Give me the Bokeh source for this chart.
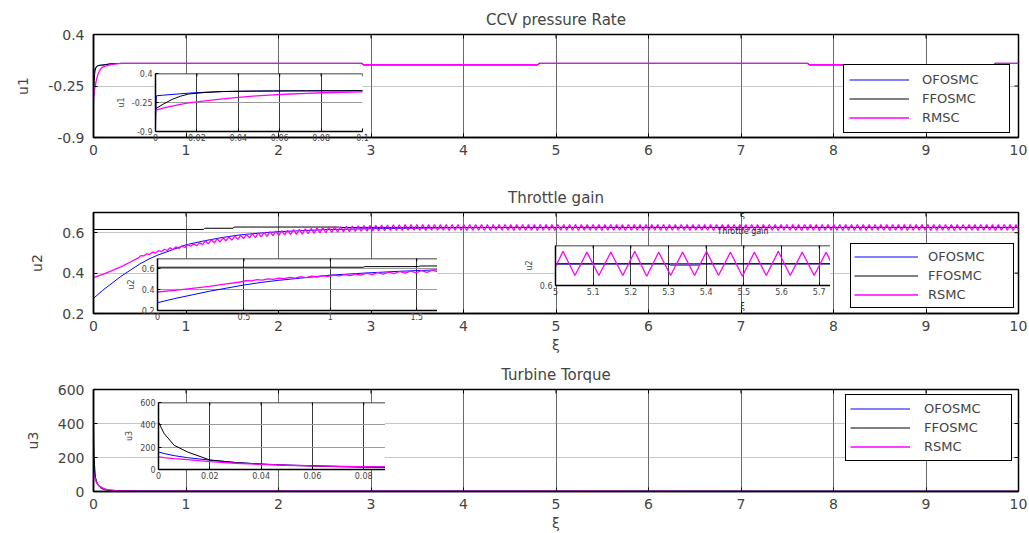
import math
from bokeh.plotting import figure
from bokeh.models import Range1d, FixedTicker, Legend, LegendItem, Label, Span
from bokeh.layouts import column
from bokeh.embed import file_html
from bokeh.resources import INLINE

# ---------------- data ----------------
series_names_1 = ["OFOSMC", "FFOSMC", "RMSC"]
series_names_2 = ["OFOSMC", "FFOSMC", "RSMC"]
series_names_3 = ["OFOSMC", "FFOSMC", "RSMC"]

titles = ["CCV pressure Rate", "Throttle gain", "Turbine Torque"]
inset_title_fragments = ["CCV pres", "Throttle ga", "Ti"]   # clipped titles visible in the insets
ylabels = ["u1", "u2", "u3"]
xlabel = "\u03be"

main_x_ticks = [0, 1, 2, 3, 4, 5, 6, 7, 8, 9, 10]
main_x_labels = ["0", "1", "2", "3", "4", "5", "6", "7", "8", "9", "10"]

u1_ticks = [-0.9, -0.25, 0.4]
u1_tick_labels = ["-0.9", "-0.25", "0.4"]
u2_ticks = [0.2, 0.4, 0.6]
u2_tick_labels = ["0.2", "0.4", "0.6"]
u3_ticks = [0, 200, 400, 600]
u3_tick_labels = ["0", "200", "400", "600"]

# u1 : CCV pressure rate
u1_t = [0, 0.0004, 0.004, 0.008, 0.012, 0.016, 0.024, 0.0325, 0.04, 0.049, 0.057,
        0.065, 0.073, 0.081, 0.09, 0.1, 0.13, 0.17, 0.22, 0.3, 2.9, 2.92, 4.8, 4.82,
        7.72, 7.74, 9.73, 9.75, 10]
u1_ofosmc = [-0.78, -0.10, -0.085, -0.07, -0.055, -0.04, -0.02, -0.005, 0.0, 0.005, 0.008,
             0.01, 0.011, 0.012, 0.013, 0.014, 0.02, 0.027, 0.032, 0.035, 0.035, 0.018, 0.018, 0.035,
             0.035, 0.018, 0.018, 0.035, 0.035]
u1_ffosmc = [-0.40, -0.38, -0.28, -0.18, -0.11, -0.06, -0.025, -0.004, 0.003, 0.007, 0.009,
             0.011, 0.012, 0.013, 0.014, 0.015, 0.02, 0.027, 0.032, 0.035, 0.035, 0.018, 0.018, 0.035,
             0.035, 0.018, 0.018, 0.035, 0.035]
u1_rmsc = [-0.44, -0.42, -0.37, -0.33, -0.29, -0.26, -0.215, -0.17, -0.135, -0.10, -0.08,
           -0.06, -0.045, -0.032, -0.02, -0.012, 0.0, 0.015, 0.027, 0.035, 0.035, 0.018, 0.018, 0.035,
           0.035, 0.018, 0.018, 0.035, 0.035]

# u2 : throttle gain
u2_ofosmc_t = [0, 0.1, 0.2, 0.3, 0.4, 0.5, 0.6, 0.7, 0.85, 1.0, 1.2, 1.4, 1.6, 1.8, 2.0,
               2.5, 3.0, 4.0, 5.3, 5.305, 5.38, 5.385, 10]
u2_ofosmc = [0.275, 0.315, 0.35, 0.385, 0.415, 0.445, 0.47, 0.49, 0.515, 0.54, 0.56, 0.577,
             0.59, 0.598, 0.605, 0.615, 0.62, 0.625, 0.626, 0.6245, 0.6245, 0.626, 0.626]
u2_ffosmc_t = [0, 1.19, 1.2, 1.51, 1.52, 2.65, 2.66, 10]
u2_ffosmc = [0.616, 0.616, 0.622, 0.622, 0.628, 0.628, 0.626, 0.626]
u2_rsmc_head_t = [0, 0.1, 0.2, 0.3, 0.4, 0.48]
u2_rsmc_head = [0.378, 0.394, 0.412, 0.432, 0.455, 0.474]
u2_rsmc_zig_t0 = 0.5114     # first chattering sample
u2_rsmc_zig_dt = 0.03175    # half period of the chattering
u2_rsmc_zig = [
    0.486, 0.485, 0.496, 0.492, 0.504, 0.500, 0.511, 0.506, 0.518, 0.512,
    0.525, 0.517, 0.530, 0.522, 0.535, 0.527, 0.541, 0.533, 0.545, 0.535,
    0.551, 0.541, 0.559, 0.545, 0.565, 0.550, 0.570, 0.554, 0.575, 0.559,
    0.579, 0.563, 0.583, 0.567, 0.587, 0.571, 0.591, 0.574, 0.595, 0.576,
    0.599, 0.579, 0.602, 0.582, 0.605, 0.585, 0.608, 0.587, 0.610, 0.589,
    0.612, 0.591, 0.615, 0.592, 0.617, 0.593, 0.619, 0.595, 0.621, 0.597,
    0.624, 0.599, 0.626, 0.600, 0.628, 0.601, 0.630, 0.602, 0.631, 0.604,
    0.632, 0.605, 0.633, 0.606, 0.634, 0.607, 0.635, 0.608, 0.636, 0.609,
    0.637, 0.610, 0.638, 0.610, 0.638, 0.611, 0.639, 0.611, 0.639, 0.611,
    0.640, 0.612,
    0.640, 0.612, 0.641, 0.612, 0.640, 0.611, 0.640, 0.612, 0.641, 0.612,
    0.640, 0.612, 0.640, 0.611, 0.641, 0.612, 0.640, 0.612, 0.640, 0.611,
    0.641, 0.612, 0.640, 0.612, 0.640, 0.612, 0.641, 0.611, 0.640, 0.612,
    0.640, 0.612, 0.641, 0.612, 0.640, 0.611, 0.640, 0.612, 0.641, 0.612,
    0.640, 0.612, 0.640, 0.611, 0.641, 0.612, 0.640, 0.612, 0.640, 0.611,
    0.641, 0.612, 0.640, 0.612, 0.640, 0.612, 0.641, 0.611, 0.640, 0.612,
    0.640, 0.612, 0.641, 0.612, 0.640, 0.611, 0.640, 0.612, 0.641, 0.612,
    0.640, 0.612, 0.640, 0.611, 0.641, 0.612, 0.640, 0.612, 0.640, 0.611,
    0.641, 0.612, 0.640, 0.612, 0.640, 0.612, 0.641, 0.611, 0.640, 0.612,
    0.640, 0.612, 0.641, 0.612, 0.640, 0.611, 0.640, 0.612, 0.641, 0.612,
    0.640, 0.612, 0.640, 0.611, 0.641, 0.612, 0.640, 0.612, 0.640, 0.611,
    0.641, 0.612, 0.640, 0.612, 0.640, 0.612, 0.641, 0.611, 0.640, 0.612,
    0.640, 0.612, 0.641, 0.612, 0.640, 0.611, 0.640, 0.612, 0.641, 0.612,
    0.640, 0.612, 0.640, 0.611, 0.641, 0.612, 0.640, 0.612, 0.640, 0.611,
    0.641, 0.612, 0.640, 0.612, 0.640, 0.612, 0.641, 0.611, 0.640, 0.612,
    0.640, 0.612, 0.641, 0.612, 0.640, 0.611, 0.640, 0.612, 0.641, 0.612,
    0.640, 0.612, 0.640, 0.611, 0.641, 0.612, 0.640, 0.612, 0.640, 0.611,
    0.641, 0.612, 0.640, 0.612, 0.640, 0.612, 0.641, 0.611, 0.640, 0.612,
    0.640, 0.612, 0.641, 0.612, 0.640, 0.611, 0.640, 0.612, 0.641, 0.612,
    0.640, 0.612, 0.640, 0.611, 0.641, 0.612, 0.640, 0.612, 0.640, 0.611,
    0.640, 0.612, 0.641, 0.612, 0.640, 0.611, 0.640, 0.612,
]
u2_rsmc_t = u2_rsmc_head_t + [u2_rsmc_zig_t0 + i * u2_rsmc_zig_dt for i in range(len(u2_rsmc_zig))]
u2_rsmc = u2_rsmc_head + u2_rsmc_zig

# u3 : turbine torque
u3_t = [0, 0.0022, 0.0061, 0.0113, 0.02, 0.03, 0.04, 0.05, 0.06, 0.07, 0.08, 0.09,
        0.12, 0.16, 0.25, 0.5, 10]
u3_ofosmc = [157, 143, 124, 106, 84, 63, 49, 40, 34, 29, 26, 23, 15, 9, 5, 2, 1]
u3_ffosmc = [425, 322, 217, 157, 85, 62, 48, 38, 31, 25, 20, 17, 11, 7, 4, 2, 1]
u3_rsmc = [113, 106, 97, 88, 70, 56, 46, 38, 32, 28, 26, 23, 15, 9, 5, 2, 1]

# inset axes
in1_x_ticks = [0, 0.02, 0.04, 0.06, 0.08, 0.1]
in1_x_labels = ["0", "0.02", "0.04", "0.06", "0.08", "0.1"]
in2a_x_ticks = [0, 0.5, 1, 1.5]
in2a_x_labels = ["0", "0.5", "1", "1.5"]
in2b_x_ticks = [5, 5.1, 5.2, 5.3, 5.4, 5.5, 5.6, 5.7]
in2b_x_labels = ["5", "5.1", "5.2", "5.3", "5.4", "5.5", "5.6", "5.7"]
in2b_y_ticks = [0.6]
in2b_y_labels = ["0.6"]
in3_x_ticks = [0, 0.02, 0.04, 0.06, 0.08]
in3_x_labels = ["0", "0.02", "0.04", "0.06", "0.08"]

# ---------------- styling ----------------
FONT = "DejaVu Sans"
C_OF = "#0000ff"
C_FF = "#000000"
C_RS = "#ff00ff"


def style_axis(ax, size, standoff, tick_in):
    ax.major_label_text_font = FONT
    ax.major_label_text_font_size = size
    ax.major_label_standoff = standoff
    ax.major_tick_in = tick_in
    ax.major_tick_out = 0
    ax.minor_tick_line_color = None
    ax.axis_line_width = 1.5
    ax.axis_line_color = "black"
    ax.major_tick_line_color = "black"
    ax.axis_label_text_font = FONT
    ax.axis_label_text_font_style = "normal"


def edge_ticks(p, xticks, xr, yticks, yr, size, top=True, right=True):
    # inward tick marks on the top / right frame edges (clipped to the frame)
    if top:
        p.scatter(xticks, [yr[1]] * len(xticks), marker="dash",
                  angle=math.pi / 2, size=size, line_color="black", line_width=1)
    if right:
        p.scatter([xr[1]] * len(yticks), yticks, marker="dash", angle=0,
                  size=size, line_color="black", line_width=1)


def main_panel(title, ylabel, yr, yticks, ylabs, height, b_top, b_bottom, xlab=None):
    p = figure(width=1029, height=height, x_range=Range1d(0, 10), y_range=Range1d(*yr),
               output_backend="svg", toolbar_location=None, frame_align=False,
               min_border_left=93, min_border_right=11,
               min_border_top=b_top, min_border_bottom=b_bottom,
               background_fill_color="white", border_fill_color="white",
               outline_line_color="black")
    p.outline_line_width = 1.5
    p.title.text = title
    p.title.align = "center"
    p.title.text_font = FONT
    p.title.text_font_size = "15px"
    p.title.text_font_style = "normal"
    p.title.standoff = 11
    xa = p.xaxis[0]
    ya = p.yaxis[0]
    xa.ticker = FixedTicker(ticks=main_x_ticks)
    xa.major_label_overrides = dict(zip(main_x_ticks, main_x_labels))
    style_axis(xa, "14px", 7, 4)
    ya.ticker = FixedTicker(ticks=yticks)
    ya.major_label_overrides = dict(zip(yticks, ylabs))
    style_axis(ya, "14px", 9, 4)
    ya.axis_label = ylabel
    ya.axis_label_text_font_size = "14px"
    ya.axis_label_standoff = 14
    if xlab:
        xa.axis_label = xlab
        xa.axis_label_text_font_size = "14px"
        xa.axis_label_standoff = 3
    p.xgrid.grid_line_color = "#6a6a6a"
    p.xgrid.grid_line_width = 1
    p.ygrid.grid_line_color = "#8c8c8c"
    p.ygrid.grid_line_dash = "1 1"
    edge_ticks(p, main_x_ticks, (0, 10), yticks, yr, 8)
    return p


def inset_panel(xr, yr, xticks, xlabs, yticks, ylabs, ylabel, fw, fh, bl, bt, bb, br=0):
    p = figure(width=bl + fw + br, height=bt + fh + bb, x_range=Range1d(*xr), y_range=Range1d(*yr),
               output_backend="svg", toolbar_location=None, frame_align=False,
               min_border_left=bl, min_border_right=br, min_border_top=bt, min_border_bottom=bb,
               background_fill_color="white", border_fill_color=None,
               outline_line_color=None)
    xa = p.xaxis[0]
    ya = p.yaxis[0]
    xa.ticker = FixedTicker(ticks=xticks)
    xa.major_label_overrides = dict(zip(xticks, xlabs))
    style_axis(xa, "8px", 2, 3)
    ya.ticker = FixedTicker(ticks=yticks)
    ya.major_label_overrides = dict(zip(yticks, ylabs))
    style_axis(ya, "8px", 3, 3)
    ya.axis_label = ylabel
    ya.axis_label_text_font_size = "8px"
    ya.axis_label_standoff = 3
    p.add_layout(Span(location=yr[1], dimension="width", line_color="black", line_width=1.5))
    p.xgrid.grid_line_color = "#3a3a3a"
    p.xgrid.grid_line_width = 1
    p.ygrid.grid_line_color = "#9a9a9a"
    p.ygrid.grid_line_width = 1
    edge_ticks(p, xticks, xr, yticks, yr, 6, top=True, right=False)
    return p


def draw(p, t_of, y_of, t_ff, y_ff, t_rs, y_rs):
    r1 = p.line(t_of, y_of, line_color=C_OF, line_width=1)
    r2 = p.line(t_ff, y_ff, line_color=C_FF, line_width=1)
    r3 = p.line(t_rs, y_rs, line_color=C_RS, line_width=1.3)
    return [r1, r2, r3]


def add_legend(p, rends, names, loc, pad, gw, gh, standoff, lw):
    leg = Legend(items=[LegendItem(label=n, renderers=[r]) for n, r in zip(names, rends)],
                 location=loc, orientation="vertical", margin=0, padding=pad, spacing=0,
                 glyph_width=gw, glyph_height=gh, label_height=gh, label_width=lw,
                 label_standoff=standoff, label_text_font=FONT, label_text_font_size="13px",
                 border_line_color="black", border_line_width=1, border_line_alpha=1,
                 background_fill_color="white", background_fill_alpha=1)
    p.add_layout(leg)


def small_label(p, x, y, text, align="left", size="7px"):
    p.add_layout(Label(x=x, y=y, text=text, text_font=FONT, text_font_size=size,
                       text_align=align, text_baseline="middle", text_color="#222222"))


# ---------------- panel 1 ----------------
p1 = main_panel(titles[0], ylabels[0], (-0.9, 0.4), u1_ticks, u1_tick_labels, 180, 34, 43)
r = draw(p1, u1_t, u1_ofosmc, u1_t, u1_ffosmc, u1_t, u1_rmsc)
add_legend(p1, r, series_names_1, (750, 4), 5, 60, 19, 13, 82)
p1.margin = (0, 0, 0, 0)

in1 = inset_panel((0, 0.1), (-0.9, 0.4), in1_x_ticks, in1_x_labels, u1_ticks, u1_tick_labels,
                  ylabels[0], 207, 58, 43, 12, 12, 8)
draw(in1, u1_t, u1_ofosmc, u1_t, u1_ffosmc, u1_t, u1_rmsc)
small_label(in1, 0.0812, 0.579, inset_title_fragments[0])
in1.margin = (-119, 0, 0, 112)

# ---------------- panel 2 ----------------
p2 = main_panel(titles[1], ylabels[1], (0.2, 0.7), u2_ticks, u2_tick_labels, 178, 32, 45, xlabel)
r = draw(p2, u2_ofosmc_t, u2_ofosmc, u2_ffosmc_t, u2_ffosmc, u2_rsmc_t, u2_rsmc)
add_legend(p2, r, series_names_2, (757, 5), 3, 64, 19, 10, 82)
small_label(p2, 7.02, 0.69, xlabel, "center", "8px")
small_label(p2, 7.02, 0.606, titles[1], "center", "8px")
small_label(p2, 7.02, 0.235, xlabel, "center", "8px")
p2.margin = (37, 0, 0, 0)

in2a = inset_panel((0, 1.62), (0.2, 0.7), in2a_x_ticks, in2a_x_labels, u2_ticks, u2_tick_labels,
                   ylabels[1], 280, 52, 42, 24, 12)
draw(in2a, u2_ofosmc_t, u2_ofosmc, u2_ffosmc_t, u2_ffosmc, u2_rsmc_t, u2_rsmc)
small_label(in2a, 1.308, 0.787, inset_title_fragments[1], "left", "8px")
small_label(in2a, 1.325, 0.873, xlabel, "center", "8px")
in2a.margin = (-124, 0, 0, 115)

in2b = inset_panel((5, 5.73), (0.6, 0.648), in2b_x_ticks, in2b_x_labels, in2b_y_ticks, in2b_y_labels,
                   ylabels[1], 275, 40, 43, 4, 18)
draw(in2b, u2_ofosmc_t, u2_ofosmc, u2_ffosmc_t, u2_ffosmc, u2_rsmc_t, u2_rsmc)
in2b.margin = (-81, 0, 0, 512)

# ---------------- panel 3 ----------------
p3 = main_panel(titles[2], ylabels[2], (0, 600), u3_ticks, u3_tick_labels, 175, 30, 42, xlabel)
r = draw(p3, u3_t, u3_ofosmc, u3_t, u3_ffosmc, u3_t, u3_rsmc)
add_legend(p3, r, series_names_3, (752, 30), 4, 60, 19, 14, 83)
p3.margin = (55, 0, 0, 0)

in3 = inset_panel((0, 0.0885), (0, 600), in3_x_ticks, in3_x_labels, u3_ticks, u3_tick_labels,
                  ylabels[2], 227, 67, 43, 12, 14)
draw(in3, u3_t, u3_ofosmc, u3_t, u3_ffosmc, u3_t, u3_rsmc)
small_label(in3, 0.0848, 682, inset_title_fragments[2])
in3.margin = (-143, 0, 50, 115)

layout = column(p1, in1, p2, in2a, in2b, p3, in3)
open("out.html", "w").write(file_html(layout, INLINE))
